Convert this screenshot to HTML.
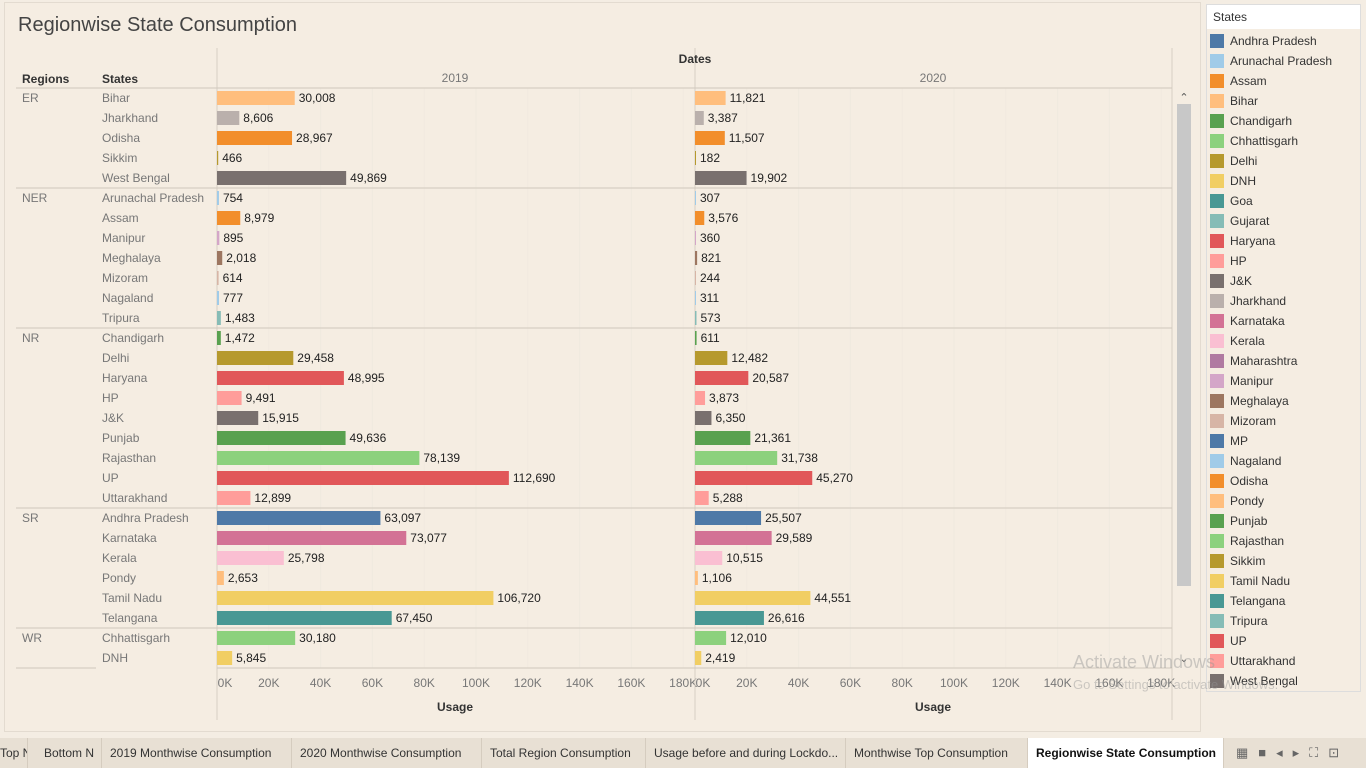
<!DOCTYPE html>
<html><head><meta charset="utf-8">
<style>
body{margin:0;width:1366px;height:768px;background:#f4ede3;font-family:"Liberation Sans",sans-serif;overflow:hidden;position:relative}
.abs{position:absolute}
</style></head><body>
<div class="abs" style="left:4px;top:2px;width:1195px;height:728px;background:#f5ede2;border:1px solid #e3dbd0"></div>
<div class="abs" style="left:18px;top:14px;font-size:20px;color:#444">Regionwise State Consumption</div>
<svg class="abs" id="chart" style="left:0;top:0" width="1200" height="735"></svg>
<div class="abs" style="left:1206px;top:4px;width:153px;height:686px;background:#f5ede2;border:1px solid #ddd">
<div style="background:#fff;height:24px;line-height:24px;padding-left:6px;font-size:12px;color:#333">States</div>
<div id="legend"></div></div>
<div class="abs" style="left:0;top:738px;width:1366px;height:30px;background:#e8e0d4" id="tabs"></div>
<div class="abs" style="left:1073px;top:652px;font-size:18px;color:rgba(150,150,150,.45)">Activate Windows</div>
<div class="abs" style="left:1073px;top:677px;font-size:13px;color:rgba(150,150,150,.45)">Go to Settings to activate Windows.</div>
<script>
const regions=["ER","NER","NR","SR","WR"];
const regionStates=[["Bihar","Jharkhand","Odisha","Sikkim","West Bengal"],["Arunachal Pradesh","Assam","Manipur","Meghalaya","Mizoram","Nagaland","Tripura"],["Chandigarh","Delhi","Haryana","HP","J&K","Punjab","Rajasthan","UP","Uttarakhand"],["Andhra Pradesh","Karnataka","Kerala","Pondy","Tamil Nadu","Telangana"],["Chhattisgarh","DNH"]];
const usage2019=[30008,8606,28967,466,49869,754,8979,895,2018,614,777,1483,1472,29458,48995,9491,15915,49636,78139,112690,12899,63097,73077,25798,2653,106720,67450,30180,5845];
const usage2020=[11821,3387,11507,182,19902,307,3576,360,821,244,311,573,611,12482,20587,3873,6350,21361,31738,45270,5288,25507,29589,10515,1106,44551,26616,12010,2419];
const ticks=[0,20000,40000,60000,80000,100000,120000,140000,160000,180000];
const tickLabels=["0K","20K","40K","60K","80K","100K","120K","140K","160K","180K"];
const legendStates=["Andhra Pradesh","Arunachal Pradesh","Assam","Bihar","Chandigarh","Chhattisgarh","Delhi","DNH","Goa","Gujarat","Haryana","HP","J&K","Jharkhand","Karnataka","Kerala","Maharashtra","Manipur","Meghalaya","Mizoram","MP","Nagaland","Odisha","Pondy","Punjab","Rajasthan","Sikkim","Tamil Nadu","Telangana","Tripura","UP","Uttarakhand","West Bengal"];
const pal=["#4e79a7","#a0cbe8","#f28e2b","#ffbe7d","#59a14f","#8cd17d","#b6992d","#f1ce63","#499894","#86bcb6","#e15759","#ff9d9a","#79706e","#bab0ac","#d37295","#fabfd2","#b07aa1","#d4a6c8","#9d7660","#d7b5a6"];
const col=s=>pal[legendStates.indexOf(s)%20];
const svg=document.getElementById('chart');const NS="http://www.w3.org/2000/svg";
function mk(t,a,txt){const e=document.createElementNS(NS,t);for(const k in a)e.setAttribute(k,a[k]);if(txt!=null)e.textContent=txt;svg.appendChild(e);return e;}
const panels=[217,695],scale=2.59/1000,rowH=20,top0=88;
const xs=(p,v)=>panels[p]+v*scale;
panels.forEach((p,pi)=>{ticks.forEach((t,i)=>{if(i>0){const l=mk('line',{x1:xs(pi,t),x2:xs(pi,t),y1:88,y2:668,stroke:'#f0e9df'});}
const tl=mk('text',{x:xs(pi,t)+(i==0?8:0),y:687,'text-anchor':'middle','font-size':12,fill:'#777'},tickLabels[i]);});
const at=mk('text',{x:p+238,y:711,'text-anchor':'middle','font-size':12,'font-weight':'bold',fill:'#333'},'Usage');
const yt=mk('text',{x:p+238,y:82,'text-anchor':'middle','font-size':12,fill:'#777'},pi?'2020':'2019');
mk('line',{x1:p,x2:p,y1:48,y2:720,stroke:'#d8d0c4'});});
mk('line',{x1:1172,x2:1172,y1:48,y2:720,stroke:'#d8d0c4'});
const dh=mk('text',{x:695,y:63,'text-anchor':'middle','font-size':12,'font-weight':'bold',fill:'#333'},'Dates');
[["Regions",22],["States",102]].forEach(([s,x])=>{const e=mk('text',{x:x,y:83,'font-size':12,'font-weight':'bold',fill:'#333'},s);});
mk('line',{x1:16,x2:1172,y1:88,y2:88,stroke:'#d0c8bc'});
let r=0;
regions.forEach((rg,ri)=>{const y0=top0+r*rowH;
const rt=mk('text',{x:22,y:y0+14,'font-size':12,fill:'#777'},rg);
regionStates[ri].forEach(s=>{const y=top0+r*rowH;
const st=mk('text',{x:102,y:y+14,'font-size':12,fill:'#777'},s);
[usage2019,usage2020].forEach((arr,pi)=>{const v=arr[r];const w=Math.max(1,xs(pi,v)-panels[pi]);
const b=mk('rect',{x:panels[pi],y:y+3,width:w,height:14,fill:col(s)});
const lb=mk('text',{x:panels[pi]+w+4,y:y+14,'font-size':12,fill:'#222'},v.toLocaleString('en-US'));});
r++;});
const yb=top0+r*rowH;mk('line',{x1:16,x2:ri==4?96:1172,y1:yb,y2:yb,stroke:'#d0c8bc'});
if(ri==4)mk('line',{x1:217,x2:1172,y1:yb,y2:yb,stroke:'#d0c8bc'});});
const sb=mk('rect',{x:1177,y:104,width:14,height:482,fill:'#c8c8c8'});
mk('text',{x:1184,y:101,'text-anchor':'middle','font-size':11,fill:'#555'},'⌃');
mk('text',{x:1184,y:662,'text-anchor':'middle','font-size':10,fill:'#555'},'⌄');
const lg=document.getElementById('legend');
legendStates.forEach((s,i)=>{const d=document.createElement('div');


d.style.cssText='height:20px;display:flex;align-items:center;font-size:12px;color:#333;white-space:nowrap';
d.innerHTML='<span style="width:14px;height:14px;margin:0 6px 0 3px;background:'+pal[i%20]+'"></span>'+s.replace('&','&amp;');lg.appendChild(d);});
lg.style.paddingTop='2px';
const tabs=[["Top N",-8,36],["Bottom N",36,66],["2019 Monthwise Consumption",102,190],["2020 Monthwise Consumption",292,190],["Total Region Consumption",482,164],["Usage before and during Lockdo...",646,200],["Monthwise Top Consumption",846,182],["Regionwise State Consumption",1028,196]];
const tb=document.getElementById('tabs');
tabs.forEach(([n,x,w],i)=>{const d=document.createElement('div');


const act=i==7;d.style.cssText='position:absolute;top:0;height:30px;line-height:30px;font-size:12px;white-space:nowrap;overflow:hidden;padding-left:8px;box-sizing:border-box;border-right:1px solid #d5ccbf;left:'+x+'px;width:'+w+'px;'+(act?'background:#fff;font-weight:bold;color:#111':'color:#333');d.textContent=n;tb.appendChild(d);});
const ic=document.createElement('div');


ic.style.cssText='position:absolute;left:1236px;top:0;height:30px;line-height:30px;font-size:13px;color:#666;letter-spacing:10px';ic.textContent='▦■◂▸⛶⊡';tb.appendChild(ic);
</script>
</body></html>
